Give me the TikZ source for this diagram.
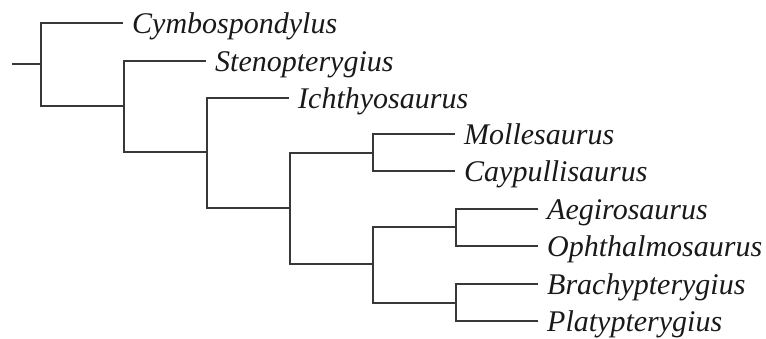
\documentclass[tikz,border=0pt]{standalone}
\usepackage{fontspec}
\setmainfont{Liberation Serif}
\begin{document}
\begin{tikzpicture}[x=1pt,y=-1pt,
  branch/.style={draw=black!78, line width=2pt},
  taxon/.style={anchor=base west, inner sep=0pt, font=\fontsize{30}{36}\selectfont\itshape, text=black!90}]
\useasboundingbox (0,0) rectangle (766,338);
% internal nodes
\coordinate (r0) at (12,63.5);
\coordinate (n0) at (40.5,63.5);
\coordinate (n1) at (123.5,105.5);
\coordinate (n2) at (206.5,151.5);
\coordinate (n3) at (289.5,207.5);
\coordinate (n4) at (372.5,152.5);
\coordinate (n5) at (372.5,263.5);
\coordinate (n6) at (455.5,226.5);
\coordinate (n7) at (455.5,302.5);
% leaf tips
\coordinate (t1) at (123,22.5);
\coordinate (t2) at (206,60.5);
\coordinate (t3) at (289,97.5);
\coordinate (t4) at (455,133.5);
\coordinate (t5) at (455,170.5);
\coordinate (t6) at (538,208.5);
\coordinate (t7) at (538,245.5);
\coordinate (t8) at (538,283.5);
\coordinate (t9) at (538,320.5);
% branches
\draw[branch] (r0) -- (n0);
\draw[branch] (n0) |- (t1);
\draw[branch] (n0) |- (n1);
\draw[branch] (n1) |- (t2);
\draw[branch] (n1) |- (n2);
\draw[branch] (n2) |- (t3);
\draw[branch] (n2) |- (n3);
\draw[branch] (n3) |- (n4);
\draw[branch] (n3) |- (n5);
\draw[branch] (n4) |- (t4);
\draw[branch] (n4) |- (t5);
\draw[branch] (n5) |- (n6);
\draw[branch] (n5) |- (n7);
\draw[branch] (n6) |- (t6);
\draw[branch] (n6) |- (t7);
\draw[branch] (n7) |- (t8);
\draw[branch] (n7) |- (t9);
% labels
\node[taxon] (l1) at ([xshift=9pt,yshift=-11pt]t1) {Cymbospondylus};
\node[taxon] (l2) at ([xshift=9pt,yshift=-11pt]t2) {Stenopterygius};
\node[taxon] (l3) at ([xshift=9pt,yshift=-11pt]t3) {Ichthyosaurus};
\node[taxon] (l4) at ([xshift=9pt,yshift=-11pt]t4) {Mollesaurus};
\node[taxon] (l5) at ([xshift=9pt,yshift=-11pt]t5) {Caypullisaurus};
\node[taxon] (l6) at ([xshift=9pt,yshift=-11pt]t6) {Aegirosaurus};
\node[taxon] (l7) at ([xshift=9pt,yshift=-11pt]t7) {Ophthalmosaurus};
\node[taxon] (l8) at ([xshift=9pt,yshift=-11pt]t8) {Brachypterygius};
\node[taxon] (l9) at ([xshift=9pt,yshift=-11pt]t9) {Platypterygius};
\end{tikzpicture}
\end{document}
